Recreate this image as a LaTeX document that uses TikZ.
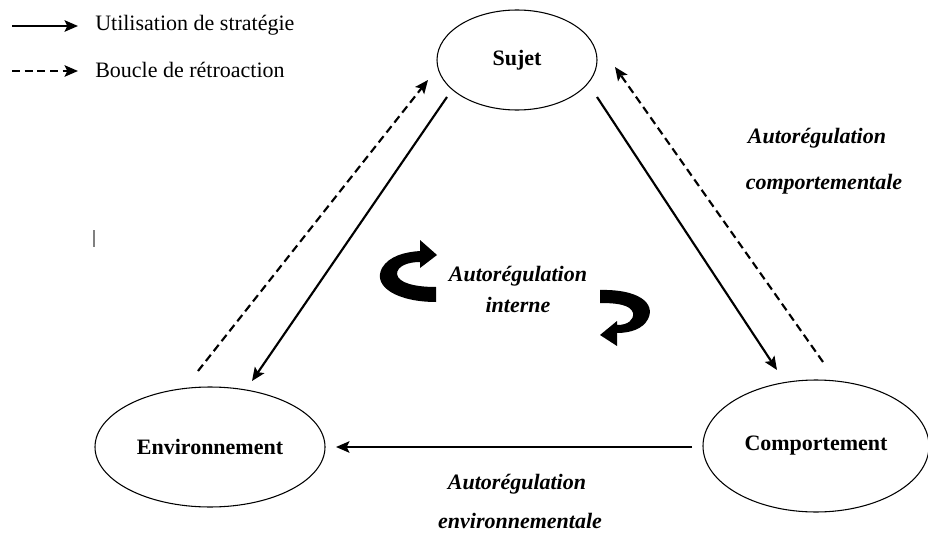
\documentclass[tikz,border=0pt]{standalone}
\usepackage{fontspec}
\setmainfont{Liberation Serif}
\usetikzlibrary{shapes.geometric,arrows.meta}
\begin{document}
\begin{tikzpicture}[x=0.75pt,y=-0.75pt,
  oval/.style={ellipse,draw,line width=0.8pt,font=\fontsize{16.5}{20}\bfseries\selectfont,inner sep=0pt},
  solidarrow/.style={line width=1.6pt,-{Stealth[length=10pt,width=8.5pt,inset=2pt]}},
  dasharrow/.style={line width=1.6pt,dash pattern=on 6pt off 3.5pt,-{Stealth[length=10pt,width=8.5pt,inset=2pt]}},
  lab/.style={font=\fontsize{16.5}{20}\bfseries\itshape\selectfont,inner sep=0pt},
  legtext/.style={font=\fontsize{16.5}{20}\selectfont,inner sep=0pt,anchor=west}]
\useasboundingbox (0,0) rectangle (928,535);
% nodes
\node[oval,minimum width=120pt,minimum height=75pt] (suj) at (517,60) {Sujet};
\node[oval,minimum width=172.5pt,minimum height=90pt] (env) at (210,447) {Environnement};
\node[oval,minimum width=169.5pt,minimum height=99pt] (comp) at (816,446) {Comportement};
% connector end points
\coordinate (s1) at (447,97);  \coordinate (e1) at (252,381);
\coordinate (e2) at (198,371); \coordinate (s2) at (428,80);
\coordinate (s3) at (597,97);  \coordinate (c3) at (777,370);
\coordinate (c4) at (823,362); \coordinate (s4) at (615,67);
\coordinate (c5) at (692,447); \coordinate (e5) at (336,447);
\draw[solidarrow] (s1) -- (e1);
\draw[dasharrow] (e2) -- (s2);
\draw[solidarrow] (s3) -- (c3);
\draw[dasharrow] (c4) -- (s4);
\draw[solidarrow] (c5) -- (e5);
% labels
\node[lab] (l1) at (817,138) {Autorégulation};
\node[lab] (l2) at (824,184) {comportementale};
\node[lab] (l3) at (517,484) {Autorégulation};
\node[lab] (l4) at (520,521) {environnementale};
\node[lab] (l5) at (518,276) {Autorégulation};
\node[lab] (l6) at (518,305) {interne};
% curved arrows
\fill (436,302) .. controls (398,302) and (372,287) .. (382,268)
  .. controls (389,256) and (405,252) .. (420,251) -- (420,240) -- (437,255) -- (420,268) -- (420,262)
  .. controls (408,262) and (397,266) .. (397,274)
  .. controls (398,283) and (415,287) .. (436,287) -- cycle;
\fill (600,290) .. controls (638,289) and (656,303) .. (648,319)
  .. controls (643,329) and (630,333) .. (617,333) -- (617,346) -- (600,335) -- (617,321) -- (617,325)
  .. controls (628,325) and (634,320) .. (633,313)
  .. controls (631,305) and (618,303) .. (600,303) -- cycle;
% legend
\coordinate (la1) at (12,26); \coordinate (la2) at (78,26);
\coordinate (lb1) at (12,71); \coordinate (lb2) at (78,71);
\draw[solidarrow] (la1) -- (la2);
\draw[dasharrow] (lb1) -- (lb2);
\node[legtext] (t1) at (95,25) {Utilisation de stratégie};
\node[legtext] (t2) at (95,70) {Boucle de rétroaction};
% stray cursor mark
\coordinate (m1) at (94,230); \coordinate (m2) at (94,247);
\draw[gray,line width=0.8pt] (m1) -- (m2);
\end{tikzpicture}
\end{document}
